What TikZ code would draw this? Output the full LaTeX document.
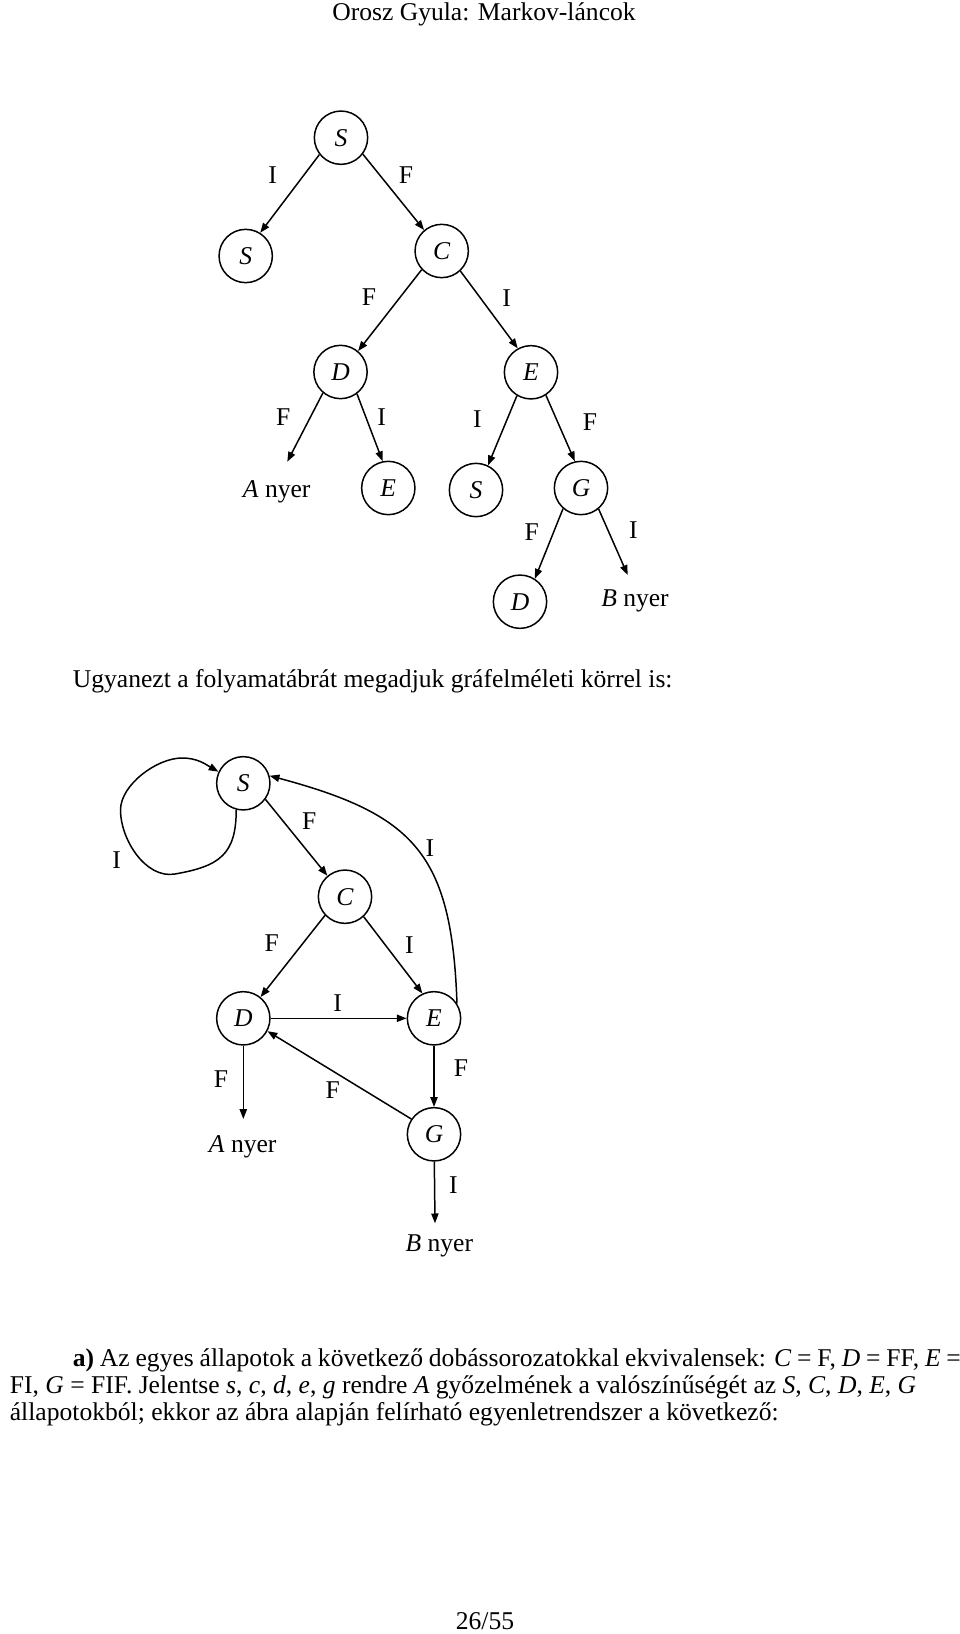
\documentclass[tikz,border=0pt]{standalone}
\usepackage{fontspec}
\setmainfont{Liberation Serif}
\usetikzlibrary{arrows.meta}

\begin{document}
\begin{tikzpicture}[x=0.469pt, y=0.469pt, line width=0.7pt,
    font=\fontsize{12pt}{14.5pt}\selectfont,
    >={Triangle[length=4.6pt,width=3.4pt]},
    allapot/.style={circle, draw, minimum size=25pt, inner sep=0pt},
    lab/.style={inner sep=0pt}]
\useasboundingbox (0,0) rectangle (960,-1634);

\node [anchor=base] (cim) at (484,-20.7) {Orosz Gyula: Markov-láncok};

% a fa
\node [allapot] (S0) at (341,-137.7) {\textit{S}};
\node [allapot] (S1) at (245.7,-256) {\textit{S}};
\node [allapot] (C1) at (441.7,-251) {\textit{C}};
\node [allapot] (D1) at (340.5,-372) {\textit{D}};
\node [allapot] (E1) at (531,-372.3) {\textit{E}};
\node [anchor=base] (A1) at (276.7,-497) {\textit{A} nyer};
\node [allapot] (E2) at (388.3,-488) {\textit{E}};
\node [allapot] (S2) at (476,-490) {\textit{S}};
\node [allapot] (G1) at (581,-488) {\textit{G}};
\node [allapot] (D2) at (520,-601.7) {\textit{D}};
\node [anchor=base] (B1) at (635,-606.7) {\textit{B} nyer};
\coordinate (a1) at (287.3,-461.7);
\coordinate (b1) at (627.7,-575);

\draw [->] (S0.218) -- (S1.58);
\draw [->] (S0.-37) -- (C1.130);
\draw [->] (C1.-137) -- (D1.50);
\draw [->] (C1.-47) -- (E1.119);
\draw [->] (D1.230) -- (a1);
\draw [->] (D1.-53) -- (E2.102);
\draw [->] (E1.-121) -- (S2.64);
\draw [->] (E1.-57) -- (G1.103);
\draw [->] (G1.-131) -- (D2.57);
\draw [->] (G1.-50) -- (b1);

\node [lab] (k1) at (272.7,-175) {I};
\node [lab] (k2) at (406,-175) {F};
\node [lab] (k3) at (369,-296.7) {F};
\node [lab] (k4) at (506.7,-298) {I};
\node [lab] (k5) at (283.3,-417.3) {F};
\node [lab] (k6) at (381.7,-417.3) {I};
\node [lab] (k7) at (477.3,-419.3) {I};
\node [lab] (k8) at (590,-421.7) {F};
\node [lab] (k9) at (531.7,-531.7) {F};
\node [lab] (k10) at (633.3,-530) {I};

\node [anchor=base west] (szoveg) at (65,-687) {Ugyanezt a folyamatábrát megadjuk gráfelméleti körrel is:};

% a graf
\node [allapot] (S) at (243.3,-783.3) {\textit{S}};
\node [allapot] (C) at (345,-896.7) {\textit{C}};
\node [allapot] (D) at (243.3,-1018.3) {\textit{D}};
\node [allapot] (E) at (434,-1018.3) {\textit{E}};
\node [allapot] (G) at (434,-1134.3) {\textit{G}};
\node [anchor=base] (A) at (242.7,-1152.7) {\textit{A} nyer};
\node [anchor=base] (B) at (439.3,-1251.7) {\textit{B} nyer};
\coordinate (a2) at (243.3,-1119);
\coordinate (b2) at (435,-1223.3);
\coordinate (h1) at (175,-874);
\coordinate (h2) at (120.5,-810);
\coordinate (h3) at (182,-758);

\draw [->] (S.-36) -- (C.130);
\draw [->] (C.-137) -- (D.51);
\draw [->] (C.-47) -- (E.115);
\draw [->] (D) -- (E);
\draw [->] (G.146) -- (D.-28);
\draw [->] (D) -- (a2);
\draw [->] (E) -- (G);
\draw [->] (G) -- (b2);
\draw [->] (E.33) to [out=92, in=-15, looseness=1.3] (S.16);
\draw [->] (S.-105) to [out=-90, in=10, looseness=1.3] (h1)
    to [out=190, in=-90, looseness=0.9] (h2)
    to [out=90, in=180, looseness=0.8] (h3)
    to [out=0, in=150] (S.155);

\node [lab] (l1) at (309.3,-821) {F};
\node [lab] (l2) at (271.7,-942.7) {F};
\node [lab] (l3) at (409.3,-945) {I};
\node [lab] (l4) at (337.7,-1003.3) {I};
\node [lab] (l5) at (332.7,-1090) {F};
\node [lab] (l6) at (221,-1079.3) {F};
\node [lab] (l7) at (461,-1067.7) {F};
\node [lab] (l8) at (453.3,-1185) {I};
\node [lab] (l9) at (430,-847.7) {I};
\node [lab] (l10) at (116.7,-860) {I};

\node [anchor=base west] (sor1) at (65,-1366) {\makebox[416.5pt][s]{\textbf{a)} Az egyes állapotok a következő dobássorozatokkal ekvivalensek: \textit{C} = F, \textit{D} = FF, \textit{E} =}};
\node [anchor=base west] (sor2) at (2,-1393.3) {FI, \textit{G} = FIF. Jelentse \textit{s}, \textit{c}, \textit{d}, \textit{e}, \textit{g} rendre \textit{A} győzelmének a valószínűségét az \textit{S}, \textit{C}, \textit{D}, \textit{E}, \textit{G}};
\node [anchor=base west] (sor3) at (2,-1420) {állapotokból; ekkor az ábra alapján felírható egyenletrendszer a következő:};

\node [anchor=base] (oldal) at (485,-1629) {26/55};
\end{tikzpicture}
\end{document}
